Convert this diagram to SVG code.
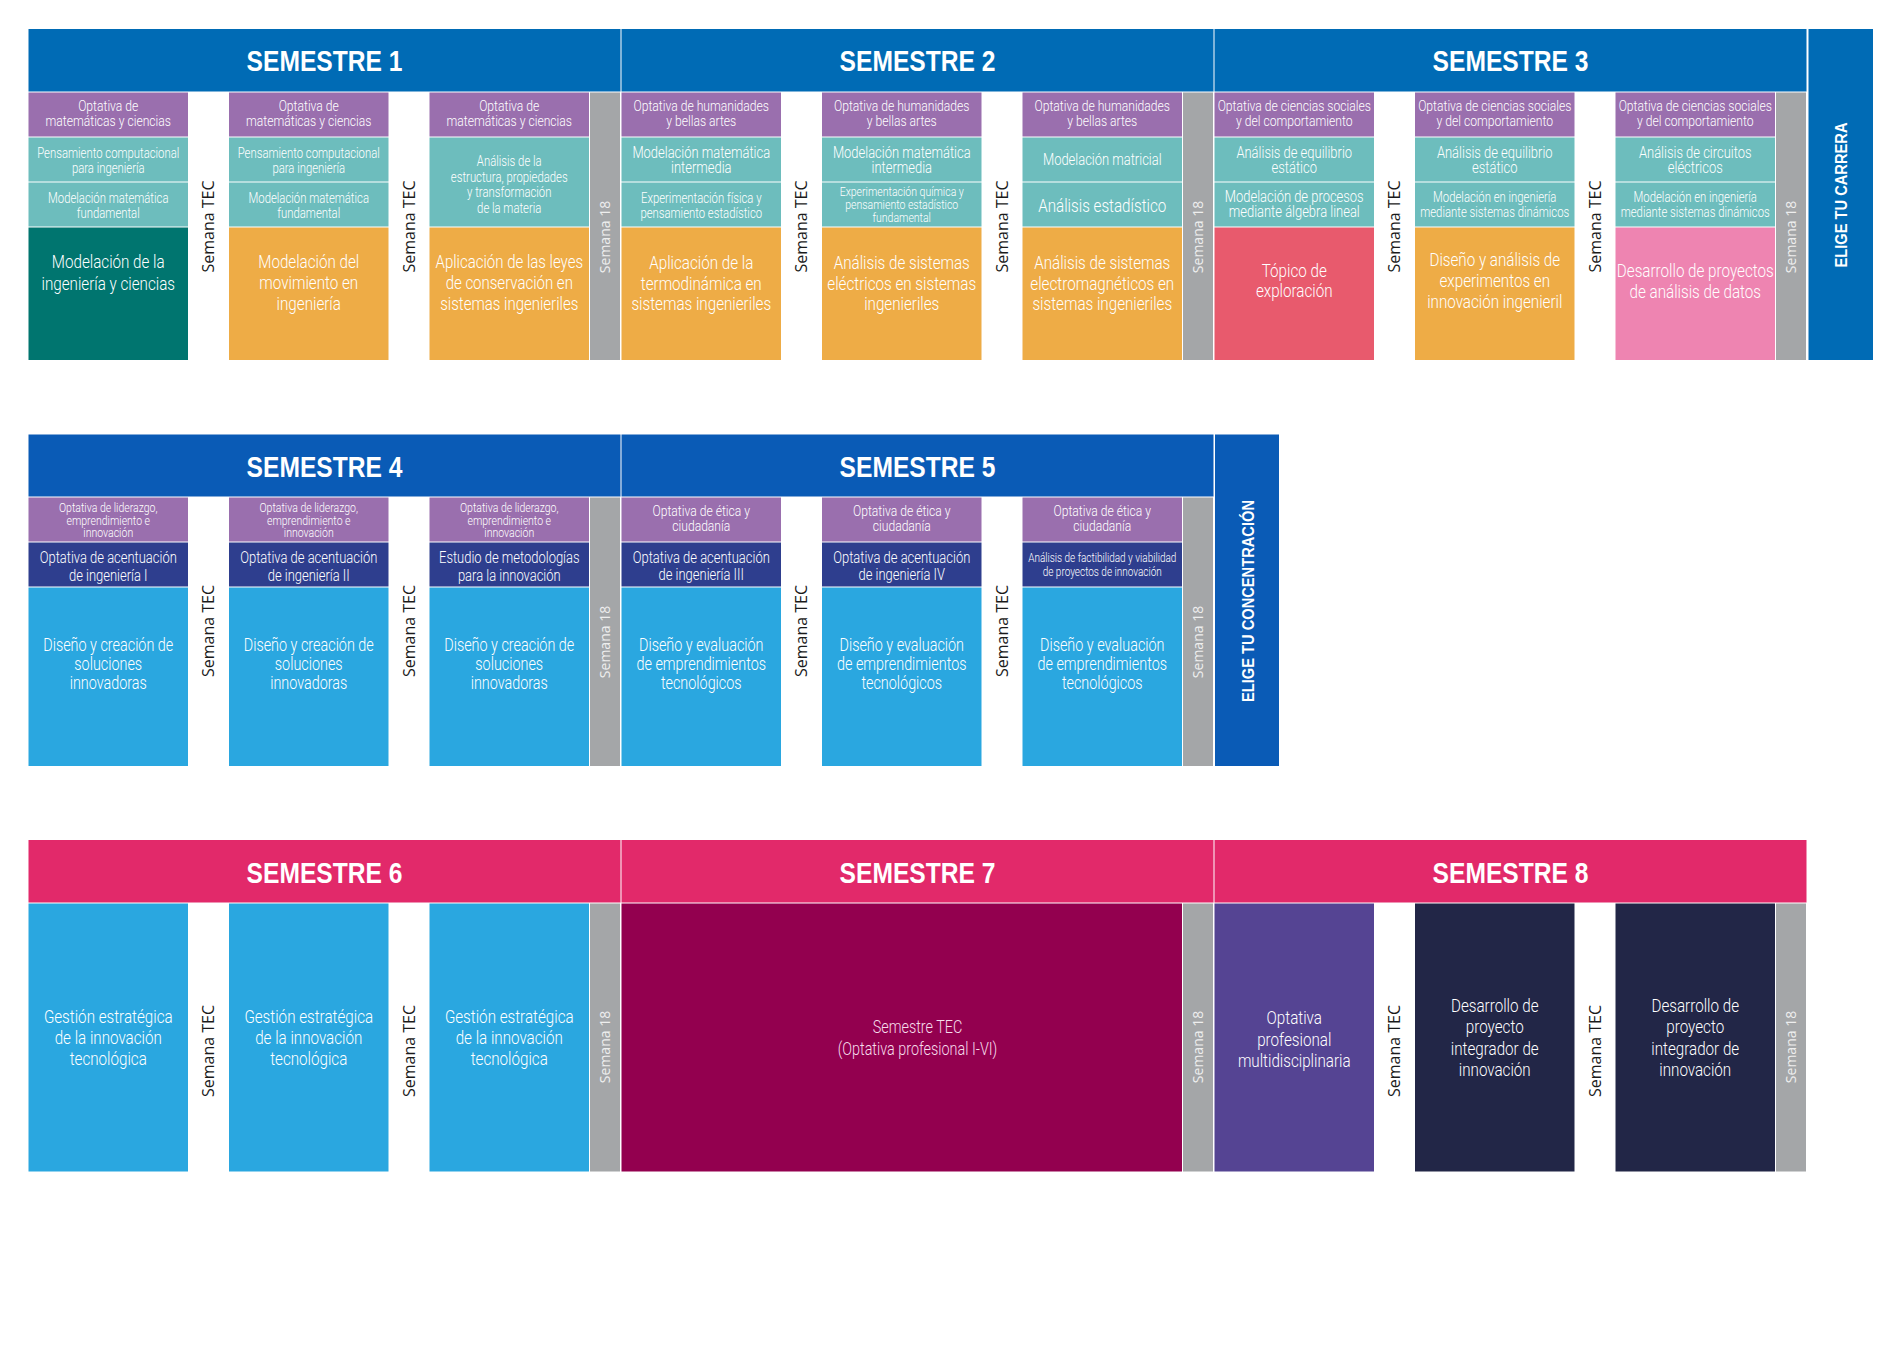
<svg xmlns="http://www.w3.org/2000/svg" width="1900" height="1372" viewBox="0 0 1900 1372">
<style>
.h1{fill:#006BB5}.h2{fill:#0A5BB6}.h3{fill:#E2296A}
.pu{fill:#9A6FAE}.te{fill:#6DBDBD}.dt{fill:#00756F}.or{fill:#EEAC46}.gr{fill:#A4A6A8}
.rd{fill:#E85A6D}.pk{fill:#EE84B1}.db{fill:#2E3E8E}.lb{fill:#2AA7E0}.mr{fill:#93004F}.vi{fill:#554493}.nv{fill:#222647}
.t{font-family:Roboto,"Liberation Sans",sans-serif;font-weight:300;fill:#fff;text-anchor:middle}
.hd{font-family:"Liberation Sans",Arial,sans-serif;font-weight:700;font-size:30px;fill:#fff;text-anchor:middle}
.tec{font-family:"Open Sans","DejaVu Sans",sans-serif;font-size:16px;fill:#1a1a1a;text-anchor:middle}
.s18{font-family:"Open Sans","DejaVu Sans",sans-serif;font-size:14px;fill:#eeeeee;text-anchor:middle}
.el{font-family:"Liberation Sans",Arial,sans-serif;font-weight:700;font-size:17px;fill:#fff;text-anchor:middle}
.f12{font-size:12.5px}.f13{font-size:13px}.f14{font-size:14px}.f15{font-size:15px}.f16{font-size:16px}.f18{font-size:18px}.f19{font-size:19px}
</style>
<rect width="1900" height="1372" fill="#fff"/>

<!-- ===== BLOCK 1 ===== -->
<g id="sem1">
<rect class="h1" x="28.5" y="29" width="592" height="62.5"/>
<text class="hd" transform="translate(324.5 0) scale(0.82 1)" x="0" y="71.5">SEMESTRE 1</text>
</g>
<g id="sem2">
<rect class="h1" x="621.5" y="29" width="592" height="62.5"/>
<text class="hd" transform="translate(917.5 0) scale(0.82 1)" x="0" y="71.5">SEMESTRE 2</text>
</g>
<g id="sem3">
<rect class="h1" x="1214.5" y="29" width="592" height="62.5"/>
<text class="hd" transform="translate(1510.5 0) scale(0.82 1)" x="0" y="71.5">SEMESTRE 3</text>
</g>
<g id="elige-carrera">
<rect class="h1" x="1808.5" y="29" width="64.5" height="331"/>
<text class="el" transform="translate(1841 195) rotate(-90)" x="0" y="6" textLength="145" lengthAdjust="spacingAndGlyphs">ELIGE TU CARRERA</text>
</g>

<!-- Sem 1 columns -->
<g id="s1a-opt"><rect class="pu" x="28.5" y="92.5" width="159.5" height="44"/>
<text class="t f15" transform="translate(108.25 0) scale(0.81 1)"><tspan x="0" y="111.5">Optativa de</tspan><tspan x="0" y="126">matemáticas y ciencias</tspan></text></g>
<g id="s1a-pc"><rect class="te" x="28.5" y="137.5" width="159.5" height="44"/>
<text class="t f14" transform="translate(108.25 0) scale(0.81 1)"><tspan x="0" y="157.7">Pensamiento computacional</tspan><tspan x="0" y="173.3">para ingeniería</tspan></text></g>
<g id="s1a-mm"><rect class="te" x="28.5" y="182.5" width="159.5" height="44"/>
<text class="t f14" transform="translate(108.25 0) scale(0.81 1)"><tspan x="0" y="202.7">Modelación matemática</tspan><tspan x="0" y="218.3">fundamental</tspan></text></g>
<g id="s1a-main"><rect class="dt" x="28.5" y="227.5" width="159.5" height="132.5"/>
<text class="t f19" transform="translate(108.25 0) scale(0.8 1)"><tspan x="0" y="268.5">Modelación de la</tspan><tspan x="0" y="290">ingeniería y ciencias</tspan></text></g>

<g id="s1b-opt"><rect class="pu" x="229" y="92.5" width="159.5" height="44"/>
<text class="t f15" transform="translate(308.75 0) scale(0.81 1)"><tspan x="0" y="111.5">Optativa de</tspan><tspan x="0" y="126">matemáticas y ciencias</tspan></text></g>
<g id="s1b-pc"><rect class="te" x="229" y="137.5" width="159.5" height="44"/>
<text class="t f14" transform="translate(308.75 0) scale(0.81 1)"><tspan x="0" y="157.7">Pensamiento computacional</tspan><tspan x="0" y="173.3">para ingeniería</tspan></text></g>
<g id="s1b-mm"><rect class="te" x="229" y="182.5" width="159.5" height="44"/>
<text class="t f14" transform="translate(308.75 0) scale(0.81 1)"><tspan x="0" y="202.7">Modelación matemática</tspan><tspan x="0" y="218.3">fundamental</tspan></text></g>
<g id="s1b-main"><rect class="or" x="229" y="227.5" width="159.5" height="132.5"/>
<text class="t f19" transform="translate(308.75 0) scale(0.8 1)"><tspan x="0" y="268.5">Modelación del</tspan><tspan x="0" y="289.5">movimiento en</tspan><tspan x="0" y="310">ingeniería</tspan></text></g>

<g id="s1c-opt"><rect class="pu" x="429.5" y="92.5" width="159.5" height="44"/>
<text class="t f15" transform="translate(509.25 0) scale(0.81 1)"><tspan x="0" y="111.5">Optativa de</tspan><tspan x="0" y="126">matemáticas y ciencias</tspan></text></g>
<g id="s1c-am"><rect class="te" x="429.5" y="137.5" width="159.5" height="89"/>
<text class="t f14" transform="translate(509.25 0) scale(0.81 1)"><tspan x="0" y="165.7">Análisis de la</tspan><tspan x="0" y="181.7">estructura, propiedades</tspan><tspan x="0" y="197.3">y  transformación</tspan><tspan x="0" y="213">de la materia</tspan></text></g>
<g id="s1c-main"><rect class="or" x="429.5" y="227.5" width="159.5" height="132.5"/>
<text class="t f19" transform="translate(509.25 0) scale(0.79 1)"><tspan x="0" y="268.5">Aplicación de las leyes</tspan><tspan x="0" y="289.5">de conservación en</tspan><tspan x="0" y="310">sistemas ingenieriles</tspan></text></g>

<g id="s1-tec1"><text class="tec" transform="translate(208.5 226.5) rotate(-90)" x="0" y="5.8">Semana TEC</text></g>
<g id="s1-tec2"><text class="tec" transform="translate(409 226.5) rotate(-90)" x="0" y="5.8">Semana TEC</text></g>
<g id="s1-s18"><rect class="gr" x="590" y="92.5" width="30" height="267.5"/>
<text class="s18" transform="translate(605 237) rotate(-90)" x="0" y="5">Semana 18</text></g>

<!-- Sem 2 columns -->
<g id="s2a-opt"><rect class="pu" x="621.5" y="92.5" width="159.5" height="44"/>
<text class="t f15" transform="translate(701.25 0) scale(0.81 1)"><tspan x="0" y="111.5">Optativa de humanidades</tspan><tspan x="0" y="126">y bellas artes</tspan></text></g>
<g id="s2a-mm"><rect class="te" x="621.5" y="137.5" width="159.5" height="44"/>
<text class="t f16" transform="translate(701.25 0) scale(0.81 1)"><tspan x="0" y="158.5">Modelación matemática</tspan><tspan x="0" y="173.5">intermedia</tspan></text></g>
<g id="s2a-ex"><rect class="te" x="621.5" y="182.5" width="159.5" height="44"/>
<text class="t f14" transform="translate(701.25 0) scale(0.81 1)"><tspan x="0" y="203.3">Experimentación física y</tspan><tspan x="0" y="218.3">pensamiento estadístico</tspan></text></g>
<g id="s2a-main"><rect class="or" x="621.5" y="227.5" width="159.5" height="132.5"/>
<text class="t f19" transform="translate(701.25 0) scale(0.8 1)"><tspan x="0" y="268.8">Aplicación de la</tspan><tspan x="0" y="289.8">termodinámica en</tspan><tspan x="0" y="310">sistemas ingenieriles</tspan></text></g>

<g id="s2b-opt"><rect class="pu" x="822" y="92.5" width="159.5" height="44"/>
<text class="t f15" transform="translate(901.75 0) scale(0.81 1)"><tspan x="0" y="111.5">Optativa de humanidades</tspan><tspan x="0" y="126">y bellas artes</tspan></text></g>
<g id="s2b-mm"><rect class="te" x="822" y="137.5" width="159.5" height="44"/>
<text class="t f16" transform="translate(901.75 0) scale(0.81 1)"><tspan x="0" y="158.5">Modelación matemática</tspan><tspan x="0" y="173.5">intermedia</tspan></text></g>
<g id="s2b-ex"><rect class="te" x="822" y="182.5" width="159.5" height="44"/>
<text class="t f13" transform="translate(901.75 0) scale(0.81 1)"><tspan x="0" y="196.4">Experimentación química y</tspan><tspan x="0" y="209">pensamiento estadístico</tspan><tspan x="0" y="221.7">fundamental</tspan></text></g>
<g id="s2b-main"><rect class="or" x="822" y="227.5" width="159.5" height="132.5"/>
<text class="t f19" transform="translate(901.75 0) scale(0.8 1)"><tspan x="0" y="268.8">Análisis de sistemas</tspan><tspan x="0" y="289.8">eléctricos en sistemas</tspan><tspan x="0" y="310">ingenieriles</tspan></text></g>

<g id="s2c-opt"><rect class="pu" x="1022.5" y="92.5" width="159.5" height="44"/>
<text class="t f15" transform="translate(1102.25 0) scale(0.81 1)"><tspan x="0" y="111.5">Optativa de humanidades</tspan><tspan x="0" y="126">y bellas artes</tspan></text></g>
<g id="s2c-mt"><rect class="te" x="1022.5" y="137.5" width="159.5" height="44"/>
<text class="t f16" transform="translate(1102.25 0) scale(0.81 1)"><tspan x="0" y="164.8">Modelación matricial</tspan></text></g>
<g id="s2c-ae"><rect class="te" x="1022.5" y="182.5" width="159.5" height="44"/>
<text class="t f19" transform="translate(1102.25 0) scale(0.8 1)"><tspan x="0" y="211.8">Análisis estadístico</tspan></text></g>
<g id="s2c-main"><rect class="or" x="1022.5" y="227.5" width="159.5" height="132.5"/>
<text class="t f19" transform="translate(1102.25 0) scale(0.8 1)"><tspan x="0" y="268.8">Análisis de sistemas</tspan><tspan x="0" y="289.8">electromagnéticos en</tspan><tspan x="0" y="310">sistemas ingenieriles</tspan></text></g>

<g id="s2-tec1"><text class="tec" transform="translate(801.5 226.5) rotate(-90)" x="0" y="5.8">Semana TEC</text></g>
<g id="s2-tec2"><text class="tec" transform="translate(1002 226.5) rotate(-90)" x="0" y="5.8">Semana TEC</text></g>
<g id="s2-s18"><rect class="gr" x="1183" y="92.5" width="30" height="267.5"/>
<text class="s18" transform="translate(1198 237) rotate(-90)" x="0" y="5">Semana 18</text></g>

<!-- Sem 3 columns -->
<g id="s3a-opt"><rect class="pu" x="1214.5" y="92.5" width="159.5" height="44"/>
<text class="t f15" transform="translate(1294.25 0) scale(0.81 1)"><tspan x="0" y="111.5">Optativa de ciencias sociales</tspan><tspan x="0" y="126">y del comportamiento</tspan></text></g>
<g id="s3a-eq"><rect class="te" x="1214.5" y="137.5" width="159.5" height="44"/>
<text class="t f16" transform="translate(1294.25 0) scale(0.81 1)"><tspan x="0" y="158.5">Análisis de equilibrio</tspan><tspan x="0" y="173.5">estático</tspan></text></g>
<g id="s3a-mp"><rect class="te" x="1214.5" y="182.5" width="159.5" height="44"/>
<text class="t f16" transform="translate(1294.25 0) scale(0.81 1)"><tspan x="0" y="202.5">Modelación de procesos</tspan><tspan x="0" y="217.5">mediante álgebra lineal</tspan></text></g>
<g id="s3a-main"><rect class="rd" x="1214.5" y="227.5" width="159.5" height="132.5"/>
<text class="t f19" transform="translate(1294.25 0) scale(0.8 1)"><tspan x="0" y="276.8">Tópico de</tspan><tspan x="0" y="297.5">exploración</tspan></text></g>

<g id="s3b-opt"><rect class="pu" x="1415" y="92.5" width="159.5" height="44"/>
<text class="t f15" transform="translate(1494.75 0) scale(0.81 1)"><tspan x="0" y="111.5">Optativa de ciencias sociales</tspan><tspan x="0" y="126">y del comportamiento</tspan></text></g>
<g id="s3b-eq"><rect class="te" x="1415" y="137.5" width="159.5" height="44"/>
<text class="t f16" transform="translate(1494.75 0) scale(0.81 1)"><tspan x="0" y="158.5">Análisis de equilibrio</tspan><tspan x="0" y="173.5">estático</tspan></text></g>
<g id="s3b-sd"><rect class="te" x="1415" y="182.5" width="159.5" height="44"/>
<text class="t f14" transform="translate(1494.75 0) scale(0.81 1)"><tspan x="0" y="202.3">Modelación en ingeniería</tspan><tspan x="0" y="217.3">mediante sistemas dinámicos</tspan></text></g>
<g id="s3b-main"><rect class="or" x="1415" y="227.5" width="159.5" height="132.5"/>
<text class="t f19" transform="translate(1494.75 0) scale(0.8 1)"><tspan x="0" y="265.8">Diseño y análisis de</tspan><tspan x="0" y="287.5">experimentos en</tspan><tspan x="0" y="308.5">innovación ingenieril</tspan></text></g>

<g id="s3c-opt"><rect class="pu" x="1615.5" y="92.5" width="159.5" height="44"/>
<text class="t f15" transform="translate(1695.25 0) scale(0.81 1)"><tspan x="0" y="111.5">Optativa de ciencias sociales</tspan><tspan x="0" y="126">y del comportamiento</tspan></text></g>
<g id="s3c-ci"><rect class="te" x="1615.5" y="137.5" width="159.5" height="44"/>
<text class="t f16" transform="translate(1695.25 0) scale(0.81 1)"><tspan x="0" y="158.5">Análisis de circuitos</tspan><tspan x="0" y="173.5">eléctricos</tspan></text></g>
<g id="s3c-sd"><rect class="te" x="1615.5" y="182.5" width="159.5" height="44"/>
<text class="t f14" transform="translate(1695.25 0) scale(0.81 1)"><tspan x="0" y="202.3">Modelación en ingeniería</tspan><tspan x="0" y="217.3">mediante sistemas dinámicos</tspan></text></g>
<g id="s3c-main"><rect class="pk" x="1615.5" y="227.5" width="159.5" height="132.5"/>
<text class="t f19" transform="translate(1695.25 0) scale(0.8 1)"><tspan x="0" y="276.8">Desarrollo de proyectos</tspan><tspan x="0" y="297.8">de análisis de datos</tspan></text></g>

<g id="s3-tec1"><text class="tec" transform="translate(1394.5 226.5) rotate(-90)" x="0" y="5.8">Semana TEC</text></g>
<g id="s3-tec2"><text class="tec" transform="translate(1595 226.5) rotate(-90)" x="0" y="5.8">Semana TEC</text></g>
<g id="s3-s18"><rect class="gr" x="1776" y="92.5" width="30" height="267.5"/>
<text class="s18" transform="translate(1791 237) rotate(-90)" x="0" y="5">Semana 18</text></g>

<!-- ===== BLOCK 2 ===== -->
<g id="sem4">
<rect class="h2" x="28.5" y="434.5" width="592" height="62"/>
<text class="hd" transform="translate(324.5 0) scale(0.82 1)" x="0" y="477">SEMESTRE 4</text>
</g>
<g id="sem5">
<rect class="h2" x="621.5" y="434.5" width="592" height="62"/>
<text class="hd" transform="translate(917.5 0) scale(0.82 1)" x="0" y="477">SEMESTRE 5</text>
</g>
<g id="elige-concentracion">
<rect class="h2" x="1215" y="434.5" width="64" height="331.5"/>
<text class="el" transform="translate(1247.5 601) rotate(-90)" x="0" y="6" textLength="202" lengthAdjust="spacingAndGlyphs">ELIGE TU CONCENTRACIÓN</text>
</g>

<!-- Sem 4 -->
<g id="s4a-opt"><rect class="pu" x="28.5" y="497.5" width="159.5" height="44"/>
<text class="t f13" transform="translate(108.25 0) scale(0.81 1)"><tspan x="0" y="512.4">Optativa de liderazgo,</tspan><tspan x="0" y="525">emprendimiento e</tspan><tspan x="0" y="537.4">innovación</tspan></text></g>
<g id="s4a-ac"><rect class="db" x="28.5" y="542.5" width="159.5" height="44"/>
<text class="t f16" transform="translate(108.25 0) scale(0.81 1)"><tspan x="0" y="563.5">Optativa de acentuación</tspan><tspan x="0" y="580.8">de ingeniería I</tspan></text></g>
<g id="s4a-main"><rect class="lb" x="28.5" y="587.5" width="159.5" height="178.5"/>
<text class="t f18" transform="translate(108.25 0) scale(0.8 1)"><tspan x="0" y="650.8">Diseño y creación de</tspan><tspan x="0" y="670.1">soluciones</tspan><tspan x="0" y="688.8">innovadoras</tspan></text></g>

<g id="s4b-opt"><rect class="pu" x="229" y="497.5" width="159.5" height="44"/>
<text class="t f13" transform="translate(308.75 0) scale(0.81 1)"><tspan x="0" y="512.4">Optativa de liderazgo,</tspan><tspan x="0" y="525">emprendimiento e</tspan><tspan x="0" y="537.4">innovación</tspan></text></g>
<g id="s4b-ac"><rect class="db" x="229" y="542.5" width="159.5" height="44"/>
<text class="t f16" transform="translate(308.75 0) scale(0.81 1)"><tspan x="0" y="563.5">Optativa de acentuación</tspan><tspan x="0" y="580.8">de ingeniería II</tspan></text></g>
<g id="s4b-main"><rect class="lb" x="229" y="587.5" width="159.5" height="178.5"/>
<text class="t f18" transform="translate(308.75 0) scale(0.8 1)"><tspan x="0" y="650.8">Diseño y creación de</tspan><tspan x="0" y="670.1">soluciones</tspan><tspan x="0" y="688.8">innovadoras</tspan></text></g>

<g id="s4c-opt"><rect class="pu" x="429.5" y="497.5" width="159.5" height="44"/>
<text class="t f13" transform="translate(509.25 0) scale(0.81 1)"><tspan x="0" y="512.4">Optativa de liderazgo,</tspan><tspan x="0" y="525">emprendimiento e</tspan><tspan x="0" y="537.4">innovación</tspan></text></g>
<g id="s4c-em"><rect class="db" x="429.5" y="542.5" width="159.5" height="44"/>
<text class="t f16" transform="translate(509.25 0) scale(0.81 1)"><tspan x="0" y="563.5">Estudio de metodologías</tspan><tspan x="0" y="580.8">para la innovación</tspan></text></g>
<g id="s4c-main"><rect class="lb" x="429.5" y="587.5" width="159.5" height="178.5"/>
<text class="t f18" transform="translate(509.25 0) scale(0.8 1)"><tspan x="0" y="650.8">Diseño y creación de</tspan><tspan x="0" y="670.1">soluciones</tspan><tspan x="0" y="688.8">innovadoras</tspan></text></g>

<g id="s4-tec1"><text class="tec" transform="translate(208.5 631) rotate(-90)" x="0" y="5.8">Semana TEC</text></g>
<g id="s4-tec2"><text class="tec" transform="translate(409 631) rotate(-90)" x="0" y="5.8">Semana TEC</text></g>
<g id="s4-s18"><rect class="gr" x="590" y="497.5" width="30" height="268.5"/>
<text class="s18" transform="translate(605 642) rotate(-90)" x="0" y="5">Semana 18</text></g>

<!-- Sem 5 -->
<g id="s5a-opt"><rect class="pu" x="621.5" y="497.5" width="159.5" height="44"/>
<text class="t f15" transform="translate(701.25 0) scale(0.81 1)"><tspan x="0" y="516.4">Optativa de ética y</tspan><tspan x="0" y="531.4">ciudadanía</tspan></text></g>
<g id="s5a-ac"><rect class="db" x="621.5" y="542.5" width="159.5" height="44"/>
<text class="t f16" transform="translate(701.25 0) scale(0.81 1)"><tspan x="0" y="563.5">Optativa de acentuación</tspan><tspan x="0" y="580">de ingeniería III</tspan></text></g>
<g id="s5a-main"><rect class="lb" x="621.5" y="587.5" width="159.5" height="178.5"/>
<text class="t f18" transform="translate(701.25 0) scale(0.8 1)"><tspan x="0" y="650.8">Diseño y evaluación</tspan><tspan x="0" y="670.1">de emprendimientos</tspan><tspan x="0" y="688.8">tecnológicos</tspan></text></g>

<g id="s5b-opt"><rect class="pu" x="822" y="497.5" width="159.5" height="44"/>
<text class="t f15" transform="translate(901.75 0) scale(0.81 1)"><tspan x="0" y="516.4">Optativa de ética y</tspan><tspan x="0" y="531.4">ciudadanía</tspan></text></g>
<g id="s5b-ac"><rect class="db" x="822" y="542.5" width="159.5" height="44"/>
<text class="t f16" transform="translate(901.75 0) scale(0.81 1)"><tspan x="0" y="563.5">Optativa de acentuación</tspan><tspan x="0" y="580">de ingeniería IV</tspan></text></g>
<g id="s5b-main"><rect class="lb" x="822" y="587.5" width="159.5" height="178.5"/>
<text class="t f18" transform="translate(901.75 0) scale(0.8 1)"><tspan x="0" y="650.8">Diseño y evaluación</tspan><tspan x="0" y="670.1">de emprendimientos</tspan><tspan x="0" y="688.8">tecnológicos</tspan></text></g>

<g id="s5c-opt"><rect class="pu" x="1022.5" y="497.5" width="159.5" height="44"/>
<text class="t f15" transform="translate(1102.25 0) scale(0.81 1)"><tspan x="0" y="516.4">Optativa de ética y</tspan><tspan x="0" y="531.4">ciudadanía</tspan></text></g>
<g id="s5c-fv"><rect class="db" x="1022.5" y="542.5" width="159.5" height="44"/>
<text class="t f12" transform="translate(1102.25 0) scale(0.8 1)"><tspan x="0" y="562.2">Análisis de factibilidad y viabilidad</tspan><tspan x="0" y="576.2">de proyectos de innovación</tspan></text></g>
<g id="s5c-main"><rect class="lb" x="1022.5" y="587.5" width="159.5" height="178.5"/>
<text class="t f18" transform="translate(1102.25 0) scale(0.8 1)"><tspan x="0" y="650.8">Diseño y evaluación</tspan><tspan x="0" y="670.1">de emprendimientos</tspan><tspan x="0" y="688.8">tecnológicos</tspan></text></g>

<g id="s5-tec1"><text class="tec" transform="translate(801.5 631) rotate(-90)" x="0" y="5.8">Semana TEC</text></g>
<g id="s5-tec2"><text class="tec" transform="translate(1002 631) rotate(-90)" x="0" y="5.8">Semana TEC</text></g>
<g id="s5-s18"><rect class="gr" x="1183" y="497.5" width="30" height="268.5"/>
<text class="s18" transform="translate(1198 642) rotate(-90)" x="0" y="5">Semana 18</text></g>

<!-- ===== BLOCK 3 ===== -->
<g id="sem6">
<rect class="h3" x="28.5" y="840" width="592" height="62.5"/>
<text class="hd" transform="translate(324.5 0) scale(0.82 1)" x="0" y="883.3">SEMESTRE 6</text>
</g>
<g id="sem7">
<rect class="h3" x="621.5" y="840" width="592" height="62.5"/>
<text class="hd" transform="translate(917.5 0) scale(0.82 1)" x="0" y="883.3">SEMESTRE 7</text>
</g>
<g id="sem8">
<rect class="h3" x="1214.5" y="840" width="592" height="62.5"/>
<text class="hd" transform="translate(1510.5 0) scale(0.82 1)" x="0" y="883.3">SEMESTRE 8</text>
</g>

<g id="s6a"><rect class="lb" x="28.5" y="903.5" width="159.5" height="268"/>
<text class="t f19" transform="translate(108.25 0) scale(0.8 1)"><tspan x="0" y="1022.8">Gestión estratégica</tspan><tspan x="0" y="1044">de la innovación</tspan><tspan x="0" y="1065.5">tecnológica</tspan></text></g>
<g id="s6b"><rect class="lb" x="229" y="903.5" width="159.5" height="268"/>
<text class="t f19" transform="translate(308.75 0) scale(0.8 1)"><tspan x="0" y="1022.8">Gestión estratégica</tspan><tspan x="0" y="1044">de la innovación</tspan><tspan x="0" y="1065.5">tecnológica</tspan></text></g>
<g id="s6c"><rect class="lb" x="429.5" y="903.5" width="159.5" height="268"/>
<text class="t f19" transform="translate(509.25 0) scale(0.8 1)"><tspan x="0" y="1022.8">Gestión estratégica</tspan><tspan x="0" y="1044">de la innovación</tspan><tspan x="0" y="1065.5">tecnológica</tspan></text></g>
<g id="s6-tec1"><text class="tec" transform="translate(208.5 1051) rotate(-90)" x="0" y="5.8">Semana TEC</text></g>
<g id="s6-tec2"><text class="tec" transform="translate(409 1051) rotate(-90)" x="0" y="5.8">Semana TEC</text></g>
<g id="s6-s18"><rect class="gr" x="590" y="903.5" width="30" height="268"/>
<text class="s18" transform="translate(605 1047) rotate(-90)" x="0" y="5">Semana 18</text></g>

<g id="s7"><rect class="mr" x="621.5" y="903.5" width="560.5" height="268"/>
<text class="t f18" transform="translate(917.5 0) scale(0.8 1)" style="fill:#F6DDEB"><tspan x="0" y="1033.2">Semestre TEC</tspan><tspan x="0" y="1054.8">(Optativa profesional I-VI)</tspan></text></g>
<g id="s7-s18"><rect class="gr" x="1183" y="903.5" width="30" height="268"/>
<text class="s18" transform="translate(1198 1047) rotate(-90)" x="0" y="5">Semana 18</text></g>

<g id="s8a"><rect class="vi" x="1214.5" y="903.5" width="159.5" height="268"/>
<text class="t f19" transform="translate(1294.25 0) scale(0.8 1)"><tspan x="0" y="1024.5">Optativa</tspan><tspan x="0" y="1045.8">profesional</tspan><tspan x="0" y="1066.8">multidisciplinaria</tspan></text></g>
<g id="s8b"><rect class="nv" x="1415" y="903.5" width="159.5" height="268"/>
<text class="t f19" transform="translate(1494.75 0) scale(0.8 1)"><tspan x="0" y="1012.5">Desarrollo de</tspan><tspan x="0" y="1033.5">proyecto</tspan><tspan x="0" y="1055.1">integrador de</tspan><tspan x="0" y="1075.8">innovación</tspan></text></g>
<g id="s8c"><rect class="nv" x="1615.5" y="903.5" width="159.5" height="268"/>
<text class="t f19" transform="translate(1695.25 0) scale(0.8 1)"><tspan x="0" y="1012.5">Desarrollo de</tspan><tspan x="0" y="1033.5">proyecto</tspan><tspan x="0" y="1055.1">integrador de</tspan><tspan x="0" y="1075.8">innovación</tspan></text></g>
<g id="s8-tec1"><text class="tec" transform="translate(1394.5 1051) rotate(-90)" x="0" y="5.8">Semana TEC</text></g>
<g id="s8-tec2"><text class="tec" transform="translate(1595 1051) rotate(-90)" x="0" y="5.8">Semana TEC</text></g>
<g id="s8-s18"><rect class="gr" x="1776" y="903.5" width="30" height="268"/>
<text class="s18" transform="translate(1791 1047) rotate(-90)" x="0" y="5">Semana 18</text></g>

<g id="connectors"/>
</svg>
